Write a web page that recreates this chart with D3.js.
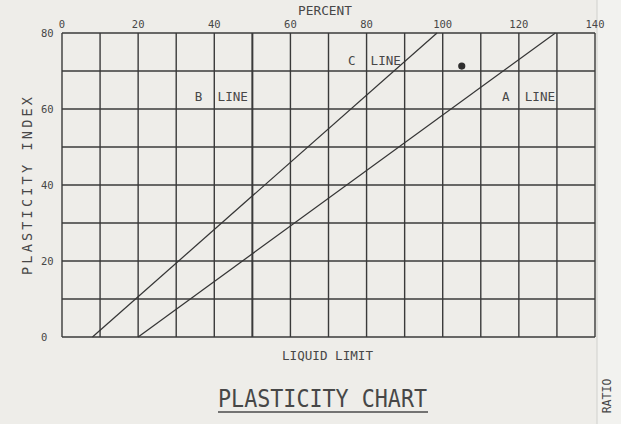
<!DOCTYPE html>
<html>
<head>
<meta charset="utf-8">
<script src="https://cdn.jsdelivr.net/npm/d3@7/dist/d3.min.js"></script>
<style>
  html, body { margin: 0; padding: 0; background: #eeede9; }
  svg { display: block; }
  text { font-family: "DejaVu Sans Mono", monospace; fill: #474747; }
</style>
</head>
<body>
<svg id="chart" width="621" height="424"></svg>
<script>
// Axis ticks (liquid limit along the top, plasticity index on the left)
const xTicks = [0, 20, 40, 60, 80, 100, 120, 140];
const yTicks = [0, 20, 40, 60, 80];
const xGrid = d3.range(0, 141, 10);
const yGrid = d3.range(0, 81, 10);

// Reference lines, each given by its two end points (liquid limit, plasticity index)
const cLine = [[8, 0], [98.5, 80]];
const aLine = [[20, 0], [129.6, 80]];

// Tested sample
const samples = [[105, 71.3]];

// Line captions, anchored in data space
const lineLabels = [
  { text: "B  LINE", ll: 34.9, pi: 62.2 },
  { text: "C  LINE", ll: 75.1, pi: 71.6 },
  { text: "A  LINE", ll: 115.6, pi: 62.2 }
];

const svg = d3.select("#chart");
const x = d3.scaleLinear().domain([0, 140]).range([62, 595]);
const y = d3.scaleLinear().domain([0, 80]).range([337, 33]);

// Page edge strip on the right
svg.append("rect").attr("x", 597).attr("y", 0).attr("width", 24).attr("height", 424)
  .attr("fill", "#f2f2ef");
svg.append("line").attr("x1", 597).attr("x2", 597).attr("y1", 0).attr("y2", 424)
  .attr("stroke", "#d6d6d2").attr("stroke-width", 1.2);

// Grid
const grid = svg.append("g").attr("stroke", "#3a3a3a").attr("fill", "none");
grid.selectAll("line.v").data(xGrid).join("line").attr("class", "v")
  .attr("x1", d => x(d)).attr("x2", d => x(d))
  .attr("y1", y(0)).attr("y2", y(80))
  .attr("stroke-width", d => d === 50 ? 2 : 1.4);
grid.selectAll("line.h").data(yGrid).join("line").attr("class", "h")
  .attr("x1", x(0)).attr("x2", x(140))
  .attr("y1", d => y(d)).attr("y2", d => y(d))
  .attr("stroke-width", d => (d === 40 || d === 30) ? 1.7 : 1.4);

// Top axis tick labels
svg.append("g").selectAll("text").data(xTicks).join("text")
  .attr("x", d => x(d)).attr("y", 28)
  .attr("text-anchor", "middle").attr("font-size", 10.5)
  .text(d => d);

// Left axis tick labels
svg.append("g").selectAll("text").data(yTicks).join("text")
  .attr("x", 41).attr("y", d => y(d) + 4)
  .attr("text-anchor", "start").attr("font-size", 10.5)
  .text(d => d);

// Reference lines
const line = d3.line().x(d => x(d[0])).y(d => y(d[1]));
svg.append("g").selectAll("path").data([cLine, aLine]).join("path")
  .attr("d", line).attr("fill", "none")
  .attr("stroke", "#353535").attr("stroke-width", 1.25);

// Sample point
svg.append("g").selectAll("circle").data(samples).join("circle")
  .attr("cx", d => x(d[0])).attr("cy", d => y(d[1])).attr("r", 3.6)
  .attr("fill", "#2e2e2e");

// Line captions
svg.append("g").selectAll("text").data(lineLabels).join("text")
  .attr("x", d => x(d.ll)).attr("y", d => y(d.pi))
  .attr("font-size", 13).attr("textLength", 53).attr("lengthAdjust", "spacingAndGlyphs")
  .style("white-space", "pre")
  .text(d => d.text);

// Axis titles
svg.append("text").attr("x", 325).attr("y", 15).attr("text-anchor", "middle")
  .attr("font-size", 13).attr("textLength", 54).attr("lengthAdjust", "spacingAndGlyphs")
  .text("PERCENT");
svg.append("text").attr("x", 327.5).attr("y", 360).attr("text-anchor", "middle")
  .attr("font-size", 13).attr("textLength", 91).attr("lengthAdjust", "spacingAndGlyphs")
  .text("LIQUID LIMIT");
svg.append("text")
  .attr("transform", "translate(32,186) rotate(-90)")
  .attr("text-anchor", "middle").attr("font-size", 13.5)
  .attr("textLength", 178).attr("lengthAdjust", "spacing")
  .text("PLASTICITY INDEX");

// Chart title with underline
svg.append("text").attr("x", 218).attr("y", 407)
  .attr("font-size", 24).attr("textLength", 209).attr("lengthAdjust", "spacingAndGlyphs")
  .text("PLASTICITY CHART");
svg.append("line").attr("x1", 218).attr("x2", 428).attr("y1", 412).attr("y2", 412)
  .attr("stroke", "#4a4a4a").attr("stroke-width", 1.3);

// Side caption
svg.append("text")
  .attr("transform", "translate(611,396) rotate(-90)")
  .attr("text-anchor", "middle").attr("font-size", 11.5)
  .text("RATIO");
</script>
</body>
</html>
